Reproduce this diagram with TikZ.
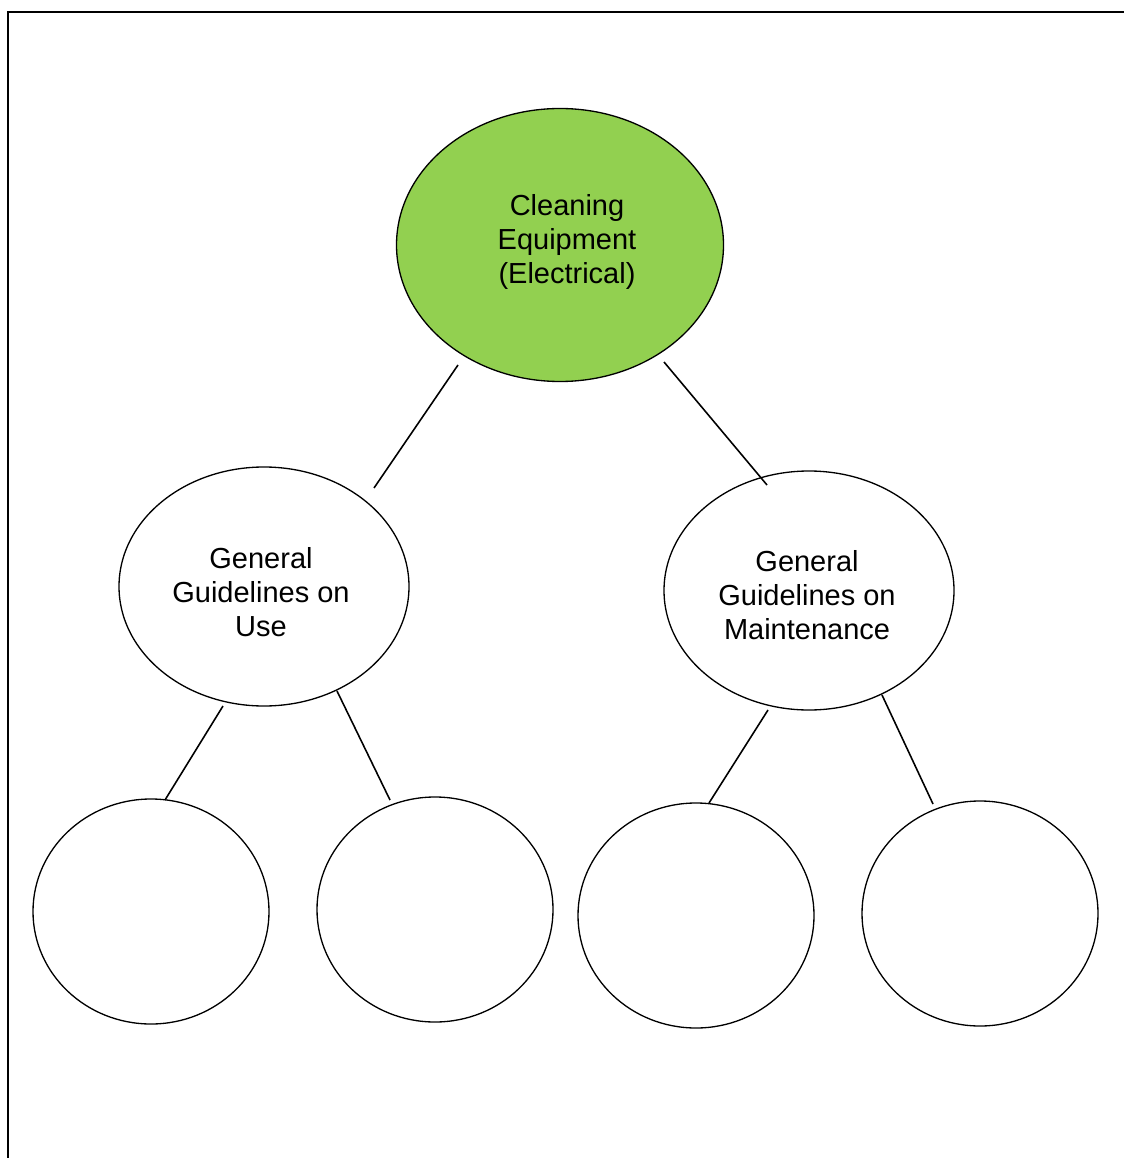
\documentclass[tikz,border=0pt]{standalone}
\usepackage{fontspec}
\setmainfont{Liberation Sans}
\definecolor{topgreen}{HTML}{92D050}
\begin{document}
\begin{tikzpicture}[x=0.02cm,y=-0.02cm,
  bubble/.style={draw=black,line width=0.75pt},
  lbl/.style={align=center,font=\fontsize{16.5}{19.3}\selectfont,inner sep=0pt},
  conn/.style={line width=0.9pt}]
\useasboundingbox (0,0) rectangle (1124,1158);
\begin{scope}
\clip (0,0) rectangle (1124,1158);
\draw[line width=1.2pt] (8,12) rectangle (1140,1180);
\end{scope}
% ellipses
\draw[bubble,fill=topgreen] (560,245) ellipse [x radius=163.5,y radius=136.5];
\node[lbl] (top) at (567,242) {Cleaning\\Equipment\\(Electrical)};
\draw[bubble] (264,586.5) ellipse [x radius=145,y radius=119.5];
\node[lbl] (use) at (261,592) {General\\Guidelines on\\Use};
\draw[bubble] (809,590.5) ellipse [x radius=145,y radius=119.5];
\node[lbl] (maint) at (807,595) {General\\Guidelines on\\Maintenance};
\draw[bubble] (151,911.5) ellipse [x radius=118,y radius=112.5];
\draw[bubble] (435,909.5) ellipse [x radius=118,y radius=112.5];
\draw[bubble] (696,915.5) ellipse [x radius=118,y radius=112.5];
\draw[bubble] (980,913.5) ellipse [x radius=118,y radius=112.5];
% connector end points
\coordinate (a1) at (458,365); \coordinate (a2) at (374,488);
\coordinate (b1) at (664,362); \coordinate (b2) at (767,485);
\coordinate (c1) at (223,706); \coordinate (c2) at (165,800);
\coordinate (d1) at (337,691); \coordinate (d2) at (390,800);
\coordinate (e1) at (768,710); \coordinate (e2) at (709,803);
\coordinate (f1) at (882,695); \coordinate (f2) at (933,804);
\draw[conn] (a1) -- (a2);
\draw[conn] (b1) -- (b2);
\draw[conn] (c1) -- (c2);
\draw[conn] (d1) -- (d2);
\draw[conn] (e1) -- (e2);
\draw[conn] (f1) -- (f2);
\end{tikzpicture}
\end{document}
